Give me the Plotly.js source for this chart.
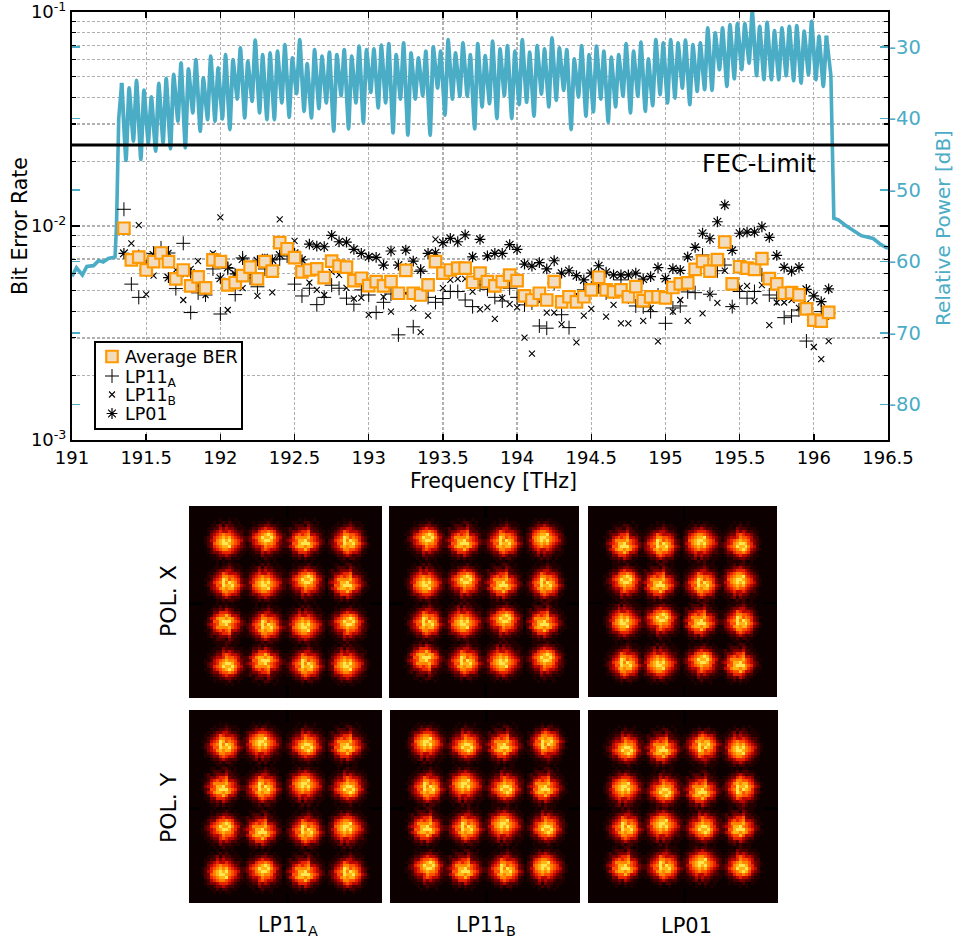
<!DOCTYPE html>
<html>
<head>
<meta charset="utf-8">
<script src="https://cdn.plot.ly/plotly-3.0.1.min.js"></script>
<style>html,body{margin:0;padding:0;background:#fff}#chart{width:955px;height:940px}
#chart .heatmaplayer image{filter:blur(0.25px)}</style>
</head>
<body>
<div id="chart"></div>
<script>
// Channel frequencies [THz]
const freq = [191.35,191.40,191.45,191.50,191.55,191.60,191.65,191.70,191.75,191.80,191.85,191.90,191.95,192.00,192.05,192.10,
192.15,192.20,192.25,192.30,192.35,192.40,192.45,192.50,192.55,192.60,192.65,192.70,192.75,192.80,192.85,192.90,
192.95,193.00,193.05,193.10,193.15,193.20,193.25,193.30,193.35,193.40,193.45,193.50,193.55,193.60,193.65,193.70,
193.75,193.80,193.85,193.90,193.95,194.00,194.05,194.10,194.15,194.20,194.25,194.30,194.35,194.40,194.45,194.50,
194.55,194.60,194.65,194.70,194.75,194.80,194.85,194.90,194.95,195.00,195.05,195.10,195.15,195.20,195.25,195.30,
195.35,195.40,195.45,195.50,195.55,195.60,195.65,195.70,195.75,195.80,195.85,195.90,195.95,196.00,196.05,196.10];

// BER, in units of 1e-3
const berAverage = [9.76,6.94,7.16,6.23,6.81,7.48,6.81,5.66,6.23,5.25,5.78,5.14,6.94,6.81,5.31,5.44,
5.86,6.43,5.66,6.81,6.16,8.36,7.83,7.11,6.10,6.23,6.30,5.74,6.86,6.50,6.43,5.56,
5.70,5.27,5.50,5.25,5.50,4.85,6.21,4.85,4.76,5.31,6.81,6.02,6.23,6.36,6.36,5.46,
6.02,5.50,5.25,5.50,5.89,5.56,4.71,4.51,4.85,4.51,5.50,4.42,4.67,4.42,4.67,5.03,
5.76,5.03,4.92,5.03,4.67,5.21,4.48,4.66,4.67,4.61,5.16,5.36,5.42,6.27,6.84,6.16,
6.96,8.42,5.36,6.45,6.36,6.27,7.04,5.68,5.36,4.85,4.88,4.77,4.10,3.63,3.59,3.95];
const berLP11A = [11.97,5.35,4.64,6.23,7.45,7.89,7.48,5.10,8.30,3.94,4.87,4.76,6.30,3.88,6.35,4.78,
7.09,5.72,5.20,6.30,6.36,7.01,7.24,5.35,4.71,5.12,4.29,4.64,5.29,5.12,4.60,4.31,
5.03,4.76,3.94,4.40,4.81,3.10,6.23,3.38,6.14,4.64,4.40,4.58,4.94,4.94,4.51,4.20,
5.31,5.06,4.64,4.46,5.12,4.64,4.28,4.37,3.41,3.33,5.42,3.85,3.35,4.51,5.03,5.14,
5.20,4.87,4.92,5.60,4.66,4.23,4.19,3.98,4.76,3.51,4.14,4.23,4.92,4.88,7.32,4.80,
6.18,6.57,4.20,4.94,4.60,4.94,5.91,4.76,4.60,3.73,3.80,4.05,2.90,3.64,3.98,3.92];
const berLP11B = [9.79,8.30,10.1,4.79,5.86,7.48,7.48,6.23,4.51,6.30,6.86,4.76,7.45,10.98,4.05,5.91,
5.12,6.36,4.72,7.18,4.90,10.74,7.72,8.53,6.94,5.44,5.03,4.76,6.11,5.91,5.14,4.58,
4.62,3.84,5.42,4.67,3.98,4.87,4.85,4.13,3.19,3.81,8.66,5.12,5.60,5.66,5.66,4.94,
4.08,4.17,3.68,4.62,4.31,4.17,3.01,2.53,4.43,3.94,3.94,3.47,4.51,2.86,3.81,4.10,
5.31,3.77,4.28,3.51,3.51,5.03,3.60,4.13,2.89,4.51,3.98,4.51,3.60,6.23,3.91,4.80,
4.37,6.18,4.20,5.14,5.25,4.46,5.29,3.44,4.39,4.39,4.51,4.14,4.36,2.72,2.39,2.90];
const berLP01 = [7.45,6.94,7.32,6.57,7.32,7.48,5.74,5.60,6.11,6.03,5.50,5.14,7.18,5.70,6.39,5.97,
7.01,6.23,6.88,7.00,6.94,7.32,7.72,7.45,6.94,8.22,8.06,8.00,9.05,8.44,8.40,7.78,
7.45,7.18,7.14,6.57,7.64,6.57,7.72,6.86,6.23,7.45,7.50,8.36,8.76,8.44,9.08,7.18,
8.66,7.25,7.45,7.45,8.18,7.78,6.64,6.50,6.74,6.30,6.88,6.02,6.18,5.86,5.60,6.02,
6.52,6.08,5.91,5.91,5.91,6.02,5.65,5.80,6.39,5.68,6.32,6.21,7.18,7.95,9.25,8.72,
10.47,12.54,7.70,9.25,9.37,9.37,9.92,8.85,7.29,6.41,6.16,6.41,5.06,4.72,4.43,5.08];
const fecLimit = 0.0239;

// Optical spectrum [dB]: level at each channel peak and in the dip that follows it
const powerPeaks = [-35.02,-35.72,-34.7,-36.05,-36.98,-35.12,-34.42,-33.86,-32.23,-33.07,-31.77,-34.33,-31.3,-32.93,-31.07,-31.77,
-30.14,-32.0,-29.07,-31.07,-30.84,-30.6,-29.67,-31.53,-28.98,-32.33,-30.37,-31.3,-30.74,-31.07,-30.37,-31.3,
-29.9,-30.37,-30.28,-29.77,-29.53,-31.07,-29.44,-30.84,-31.53,-30.6,-30.0,-30.6,-28.98,-30.84,-29.44,-31.07,
-29.53,-31.21,-29.21,-30.28,-29.81,-30.6,-28.98,-30.74,-29.81,-30.28,-28.74,-30.14,-30.37,-31.67,-29.81,-31.07,
-29.9,-30.6,-31.44,-31.07,-29.53,-30.6,-29.35,-31.67,-28.98,-29.44,-28.98,-29.44,-29.07,-29.67,-29.44,-27.35,
-28.05,-27.35,-26.88,-26.74,-26.74,-25.02,-27.12,-26.56,-27.72,-27.35,-27.12,-27.02,-27.81,-26.42,-28.51,-28.42];
const powerDips = [-45.86,-43.16,-45.72,-43.4,-44.56,-43.4,-44.23,-40.37,-44.09,-39.21,-41.77,-40.14,-40.37,-40.05,-41.53,-37.26,
-39.91,-37.58,-39.21,-40.14,-40.14,-37.81,-39.81,-36.51,-38.98,-39.91,-38.6,-37.81,-41.77,-36.79,-41.44,-37.81,
-40.6,-36.33,-38.51,-37.81,-42.0,-37.26,-42.33,-37.26,-36.79,-42.33,-35.72,-39.53,-37.26,-36.88,-36.88,-41.44,
-38.37,-37.91,-40.0,-36.79,-40.0,-38.05,-37.72,-39.67,-36.56,-38.37,-37.44,-36.05,-41.53,-36.98,-39.67,-39.07,
-37.26,-40.51,-38.37,-36.88,-39.21,-36.88,-38.98,-38.19,-36.65,-37.81,-37.12,-35.72,-38.05,-36.19,-35.95,-36.05,
-33.16,-35.49,-34.42,-33.16,-32.23,-34.0,-34.56,-34.56,-34.56,-34.0,-34.7,-35.02,-33.86,-34.56,-35.49];
const powerLeftFreq = [191.0,191.03,191.07,191.10,191.145,191.18,191.21,191.245,191.29,191.30,191.315,191.335];
const powerLeftDb = [-62.1,-60.9,-61.9,-60.7,-60.6,-59.9,-60.1,-59.6,-59.4,-55.0,-40.0,-35.02];
const powerRightFreq = [196.085,196.115,196.135,196.165,196.21,196.265,196.32,196.40,196.455,196.5];
const powerRightDb = [-28.42,-34.0,-53.96,-54.2,-54.9,-55.6,-56.4,-56.8,-57.7,-58.2];

// Axis labels
const berTickVals = [0.001, 0.01, 0.1];
const berTickText = ['10<sup>-3</sup>', '10<sup>-2</sup>', '10<sup>-1</sup>'];
const powerTickVals = [-30, -40, -50, -60, -70, -80];
const powerTickText = ['-30', '-40', '-50', '-60', '-70', '-80'];

// Constellation spot centres (histogram bin numbers) per panel
const panelNames = ['LP11A X','LP11B X','LP01 X','LP11A Y','LP11B Y','LP01 Y'];
const spotCols = [[12,25,38,52],[12,25,38,52],[12,24,38,51],[11,24,38,52],[12,25,38,52],[12,25,38,51]];
const spotRows = [[11,25,39,52],[11,25,38,51],[12,25,38,52],[11,25,39,53],[11,25,38,52],[12,26,38,51]];
// Spot intensity patches (0-9), read from the density of the clouds
const spotA = ["000001001010000","000101212101000","001123132211100","011224343321110","012345445432210","013456766543210","123567878654321","124578989765421","123678998765321","023567889654320","012456776543210","012334555432110","001123343221100","000112122111000","000010101100000"];
const spotB = ["000010010100000","000011121010000","001112223111000","011223434221100","012344565332110","022456675443210","123467787654211","123568998754321","024579889765320","123468987654211","012356766533210","011234454322100","001122332211000","000101211101000","000001010000000"];
const spotC = ["000001010010000","000110122101000","000122213211000","012123334221100","012334556322110","112456567443210","023577778654211","134568897654320","123668999765321","024578878754211","012456686443110","011335554322100","001223243211000","000112121110000","000010010100000"];
const spotD = ["000000101000000","000111211010000","001112322111000","001223443321100","012344456432110","012456677543210","123567689654211","023578979765320","134679889664321","123568878754310","012456677543210","011344565332110","001222343221000","000112212110000","000001001000000"];
const spots = [spotA, spotB, spotC, spotD];

const BLUE = '#4bacc6', GRID = '#b0b0b0';
const FONT = 'DejaVu Sans';
const mber = a => a.map(v => v * 1e-3);

// Spectrum trace: peak, dip, peak, dip ...
const combX = [], combY = [];
freq.forEach((f, i) => {
  combX.push(f - 0.015); combY.push(powerPeaks[i]);
  if (i < powerDips.length) { combX.push(f + 0.014); combY.push(powerDips[i]); }
});

const traces = [
  {x: powerLeftFreq, y: powerLeftDb, xaxis: 'x', yaxis: 'y', mode: 'lines', line: {color: BLUE, width: 3.6}, showlegend: false, name: 'Relative Power (low band)'},
  {x: combX, y: combY, xaxis: 'x', yaxis: 'y', mode: 'lines', line: {color: BLUE, width: 4, shape: 'spline', smoothing: 0.2}, showlegend: false, name: 'Relative Power'},
  {x: powerRightFreq, y: powerRightDb, xaxis: 'x', yaxis: 'y', mode: 'lines', line: {color: BLUE, width: 3.6}, showlegend: false, name: 'Relative Power (high band)'},
  {x: [191, 196.5], y: [fecLimit, fecLimit], xaxis: 'x', yaxis: 'y2', mode: 'lines', line: {color: '#000', width: 3.2}, showlegend: false, name: 'FEC-Limit'},
  {x: freq, y: mber(berLP11A), xaxis: 'x', yaxis: 'y2', mode: 'markers', name: 'LP11<sub>A</sub>', legendrank: 2,
   marker: {symbol: 'cross-thin-open', size: 10, color: '#000', line: {color: '#000', width: 1}}},
  {x: freq, y: mber(berLP11B), xaxis: 'x', yaxis: 'y2', mode: 'markers', name: 'LP11<sub>B</sub>', legendrank: 3,
   marker: {symbol: 'x-thin-open', size: 6, color: '#000', line: {color: '#000', width: 1.1}}},
  {x: freq, y: mber(berLP01), xaxis: 'x', yaxis: 'y2', mode: 'markers', name: 'LP01', legendrank: 4,
   marker: {symbol: 'asterisk-open', size: 9, color: '#000', line: {color: '#000', width: 1.2}}},
  {x: freq, y: mber(berAverage), xaxis: 'x', yaxis: 'y2', mode: 'markers', name: 'Average BER', legendrank: 1,
   marker: {symbol: 'square', size: 11.5, color: '#f2dcc0', line: {color: '#ff9900', width: 2.2}}}
];

// Constellation panels
const W = 955, H = 940;
const panelBox = [[189,382,506,698],[389,579,506,698],[588,777,506,697],[189,382,710,903],[390,580,710,903],[588,778,710,903]];
const BINS = 64;
const layoutAxes = {};
panelBox.forEach((b, p) => {
  const z = [];
  for (let r = 0; r < BINS; r++) z.push(new Array(BINS).fill(r === 32 ? -1 : 0));
  for (let r = 0; r < BINS; r++) z[r][32] = -1;
  spotRows[p].forEach((rc, ri) => spotCols[p].forEach((cc, ci) => {
    const s = spots[(ri * 3 + ci + p) % 4];
    const flipH = (ri + ci + p) % 2 === 1, flipV = (ri * 2 + ci + p) % 3 === 1;
    s.forEach((line, dr) => {
      for (let dc = 0; dc < 15; dc++) {
        const v = +line[flipH ? 14 - dc : dc];
        const R = rc - 7 + (flipV ? 14 - dr : dr), C = cc - 7 + dc;
        if (R >= 0 && R < BINS && C >= 0 && C < BINS && v > z[R][C]) z[R][C] = v;
      }
    });
  }));
  const n = p + 3;
  traces.push({type: 'heatmap', z, xaxis: 'x' + n, yaxis: 'y' + n, zmin: -1, zmax: 9, showscale: false, hoverinfo: 'skip', name: panelNames[p],
    colorscale: [[0, '#000000'], [0.1, '#0c0000'], [0.2, '#220000'], [0.3, '#480000'], [0.4, '#7c0000'], [0.5, '#b80800'],
                 [0.6, '#e62400'], [0.7, '#ff5000'], [0.8, '#ff8400'], [0.9, '#ffb414'], [1, '#ffe650']]});
  layoutAxes['xaxis' + n] = {domain: [b[0] / W, b[1] / W], range: [-0.5, BINS - 0.5], visible: false, fixedrange: true, anchor: 'y' + n};
  layoutAxes['yaxis' + n] = {domain: [1 - b[3] / H, 1 - b[2] / H], range: [BINS - 0.5, -0.5], visible: false, fixedrange: true, anchor: 'x' + n};
});

const note = (text, px_, py_, size, extra) => Object.assign({text, xref: 'paper', yref: 'paper', x: px_ / W, y: 1 - py_ / H,
  showarrow: false, xanchor: 'center', yanchor: 'middle', font: {family: FONT, size, color: '#000'}}, extra || {});

const layout = Object.assign({
  width: W, height: H, margin: {l: 0, r: 0, t: 0, b: 0},
  paper_bgcolor: '#fff', plot_bgcolor: '#fff',
  font: {family: FONT, size: 18, color: '#000'},
  showlegend: true,
  legend: {x: 94 / W, y: 1 - 341 / H, xanchor: 'left', yanchor: 'top', bgcolor: '#fff', bordercolor: '#000', borderwidth: 1.5,
           font: {family: FONT, size: 17.5, color: '#000'}, itemwidth: 30, tracegroupgap: 0},
  xaxis: {domain: [72 / W, 888 / W], range: [191, 196.5], dtick: 0.5, ticks: 'inside', ticklen: 6, tickwidth: 1.5, tickcolor: '#000',
          showline: true, linecolor: '#000', linewidth: 2, mirror: 'ticks', showgrid: true, gridcolor: GRID, griddash: '3px,2px', gridwidth: 1.3,
          zeroline: false, anchor: 'y', tickfont: {size: 18}, title: {text: 'Frequency [THz]', font: {size: 20.5}, standoff: 2}},
  yaxis: {domain: [1 - 440 / H, 1 - 12 / H], range: [-85, -25.1], side: 'right', anchor: 'x', tickvals: powerTickVals,
          ticktext: powerTickText, ticks: 'inside', ticklen: 8, tickwidth: 1.5, tickcolor: BLUE, mirror: 'ticks',
          showline: false, showgrid: false, zeroline: false, tickfont: {size: 19.5, color: BLUE},
          title: {text: 'Relative Power [dB]', font: {size: 20, color: BLUE}, standoff: 14}},
  yaxis2: {type: 'log', overlaying: 'y', side: 'left', anchor: 'x', range: [-3, -1], tickmode: 'array', tickvals: berTickVals, ticktext: berTickText,
           ticks: 'inside', ticklen: 8, tickwidth: 1.5, tickcolor: '#000', showline: true, linecolor: '#000', linewidth: 2, mirror: 'ticks', ticklabeloverflow: 'allow',
           showgrid: true, gridcolor: GRID, griddash: '3px,2px', gridwidth: 1.3, zeroline: false, tickfont: {size: 18},
           minor: {dtick: 'D1', ticks: 'inside', ticklen: 4, tickwidth: 1.2, tickcolor: '#000', showgrid: true, gridcolor: GRID, griddash: '3px,2px', gridwidth: 1.3},
           title: {text: 'Bit Error Rate', font: {size: 20.5}, standoff: 0}},
  annotations: [
    note('FEC-Limit', 759, 164, 24),
    note('POL. X', 168, 601, 22, {textangle: -90}),
    note('POL. Y', 168, 808, 22, {textangle: -90}),
    note('LP11<sub>A</sub>', 288, 926, 20.5),
    note('LP11<sub>B</sub>', 486, 926, 20.5),
    note('LP01', 686, 926, 21)
  ]
}, layoutAxes);

Plotly.newPlot('chart', traces, layout, {displayModeBar: false, staticPlot: true}).then(() => {
  // Tighten the legend rows to the spacing of the original figure
  const rowY = [15.5, 35, 53.5, 72.5];
  document.querySelectorAll('#chart .legend .traces').forEach((g, i) => {
    g.setAttribute('transform', 'translate(-2,' + rowY[i] + ')');
    const t = g.querySelector('.legendtext');
    if (t) t.setAttribute('x', +t.getAttribute('x') - 7);
    t && t.querySelectorAll('tspan[x]').forEach(s => s.setAttribute('x', +s.getAttribute('x') - 7));
  });
  const bg = document.querySelector('#chart .legend .bg');
  if (bg) { bg.setAttribute('width', 147); bg.setAttribute('height', 87); }
  // The original's axis titles sit slightly off the axis centre
  const nudge = (sel, dx, dy) => { const t = document.querySelector(sel); if (t) t.setAttribute('transform', 'translate(' + dx + ',' + dy + ') ' + (t.getAttribute('transform') || '')); };
  nudge('#chart .xtitle', 13.5, 1);
  nudge('#chart .y2title', 2, 0);
  nudge('#chart .ytitle', 2, 2);
});
</script>
</body>
</html>
